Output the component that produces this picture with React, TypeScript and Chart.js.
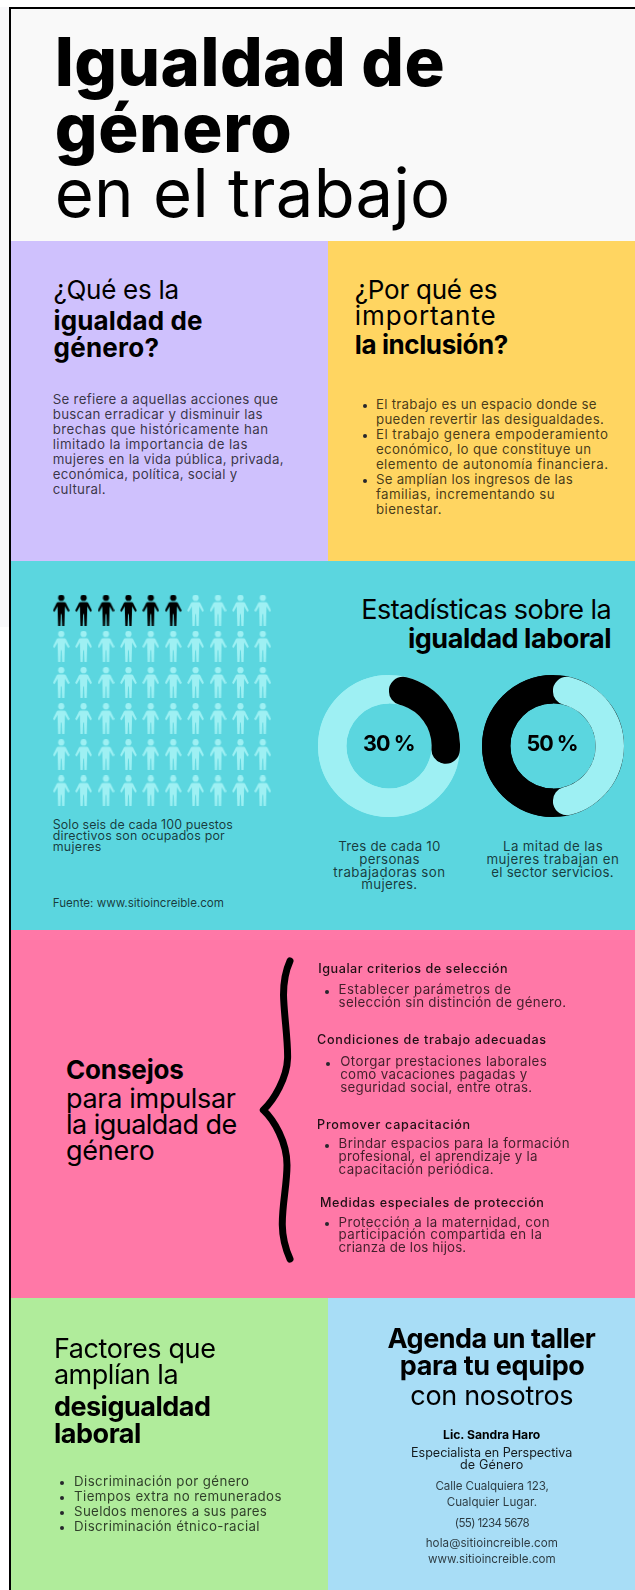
import React, { useEffect, useRef } from "react";
import { Chart, registerables } from "chart.js";

Chart.register(...registerables);

// ---------- data ----------
const ringLabels = ["Mujeres", "Resto"];
const womenWorkersShare = [30, 70];
const womenServicesShare = [50, 50];
const pictogramColumns = [1, 2, 3, 4, 5, 6, 7, 8, 9, 10];
const pictogramRows = [1, 2, 3, 4, 5, 6];
const directivesPerHundred = 6;

const BLACK = "#000000";
const LIGHT = "#9EF0F3";

const measureCtx = document.createElement("canvas").getContext("2d");

type LineProps = {
  x: number;
  y: number;
  w?: number;
  s: number;
  b?: boolean;
  m?: boolean;
  k?: boolean;
  c?: string;
  children: string;
};

function L({ x, y, w, s, b, m, k, c, children }: LineProps) {
  const weight = k ? 800 : b ? 700 : m ? 500 : 400;
  let spacing = 0;
  if (w && measureCtx) {
    measureCtx.font = `${weight} ${s}px Inter`;
    const natural = measureCtx.measureText(children).width;
    spacing = (w - natural) / Math.max(1, children.length - 1);
  }
  return (
    <div
      style={{
        position: "absolute",
        left: x,
        top: y + 1.5 - 0.8636 * s,
        fontFamily: "Inter",
        fontSize: s,
        lineHeight: `${s}px`,
        fontWeight: weight,
        color: c || "#000",
        letterSpacing: spacing,
        whiteSpace: "nowrap",
      }}
    >
      {children}
    </div>
  );
}

function Dot({ x, y }: { x: number; y: number }) {
  return (
    <div
      style={{
        position: "absolute",
        left: x - 2,
        top: y - 0.5,
        width: 4,
        height: 4,
        borderRadius: "50%",
        background: "#26262c",
      }}
    />
  );
}

function Box({ x, y, w, h, c }: { x: number; y: number; w: number; h: number; c: string }) {
  return <div style={{ position: "absolute", left: x, top: y, width: w, height: h, background: c }} />;
}

function personSprite(color: string) {
  const canvas = document.createElement("canvas");
  canvas.width = 17;
  canvas.height = 31;
  const ctx = canvas.getContext("2d")!;
  ctx.fillStyle = color;
  ctx.beginPath();
  ctx.arc(8.5, 3.2, 3.1, 0, Math.PI * 2);
  ctx.fill();
  ctx.beginPath();
  ctx.moveTo(5.6, 7.4);
  ctx.lineTo(11.4, 7.4);
  ctx.quadraticCurveTo(12.6, 7.5, 13.2, 8.6);
  ctx.lineTo(16.9, 16);
  ctx.lineTo(15.3, 17.2);
  ctx.lineTo(12.2, 11.8);
  ctx.lineTo(12, 19);
  ctx.lineTo(11.6, 31);
  ctx.lineTo(9.4, 31);
  ctx.lineTo(8.9, 19.5);
  ctx.lineTo(8.1, 19.5);
  ctx.lineTo(7.6, 31);
  ctx.lineTo(5.4, 31);
  ctx.lineTo(5, 19);
  ctx.lineTo(4.8, 11.8);
  ctx.lineTo(1.7, 17.2);
  ctx.lineTo(0.1, 16);
  ctx.lineTo(3.8, 8.6);
  ctx.quadraticCurveTo(4.4, 7.5, 5.6, 7.4);
  ctx.closePath();
  ctx.fill();
  return canvas;
}

function Ring({
  values,
  colors,
  radii,
  under,
  left,
  top,
}: {
  values: number[];
  colors: string[];
  radii: number[];
  under: string;
  left: number;
  top: number;
}) {
  const ref = useRef<HTMLCanvasElement>(null);
  useEffect(() => {
    const backdrop = {
      id: "ringBackdrop",
      beforeDatasetsDraw(chart: any) {
        const arc = chart.getDatasetMeta(0).data[0];
        const { ctx } = chart;
        ctx.save();
        ctx.strokeStyle = under;
        ctx.lineWidth = arc.outerRadius - arc.innerRadius;
        ctx.beginPath();
        ctx.arc(arc.x, arc.y, (arc.outerRadius + arc.innerRadius) / 2, 0, Math.PI * 2);
        ctx.stroke();
        ctx.restore();
      },
    };
    const chart = new Chart(ref.current!, {
      type: "doughnut",
      data: {
        labels: ringLabels,
        datasets: [
          { data: values, backgroundColor: colors, borderWidth: 0, borderRadius: radii, spacing: 0 },
        ],
      },
      options: {
        animation: false,
        responsive: false,
        cutout: "60%",
        rotation: 0,
        layout: { padding: 0 },
        plugins: { legend: { display: false }, tooltip: { enabled: false } },
      },
      plugins: [backdrop],
    } as any);
    return () => chart.destroy();
  }, []);
  return <canvas ref={ref} width={142} height={142} style={{ position: "absolute", left, top, width: 142, height: 142 }} />;
}

function Pictogram() {
  const ref = useRef<HTMLCanvasElement>(null);
  useEffect(() => {
    const all = pictogramRows.flatMap((r) => pictogramColumns.map((c) => ({ x: c, y: r })));
    const chart = new Chart(ref.current!, {
      type: "scatter",
      data: {
        datasets: [
          {
            label: "Mujeres",
            data: all.slice(0, directivesPerHundred),
            pointStyle: personSprite(BLACK),
            pointRadius: 10,
            backgroundColor: BLACK,
            clip: false,
          },
          {
            label: "Hombres",
            data: all.slice(directivesPerHundred),
            pointStyle: personSprite(LIGHT),
            pointRadius: 10,
            backgroundColor: LIGHT,
            clip: false,
          },
        ],
      },
      options: {
        animation: false,
        responsive: false,
        layout: { padding: 0, autoPadding: false },
        scales: {
          x: { type: "linear", display: false, min: 0.5, max: 10.5 },
          y: { type: "linear", display: false, min: 0.5, max: 6.5, reverse: true },
        },
        plugins: { legend: { display: false }, tooltip: { enabled: false } },
      },
    } as any);
    return () => chart.destroy();
  }, []);
  return <canvas ref={ref} width={224} height={217} style={{ position: "absolute", left: 50, top: 592, width: 224, height: 217 }} />;
}

const T = "rgba(0,0,0,0.74)";
const H = "rgba(0,0,0,0.88)";
const SIZE = 13.3;

export default function App() {
  useEffect(() => {
    document.body.style.margin = "0";
  }, []);
  return (
    <div
      style={{
        position: "absolute",
        left: 0,
        top: 0,
        width: 635,
        height: 1590,
        overflow: "hidden",
        background: "#fff",
        filter: "blur(0.35px)",
      }}
    >
      <Box x={0} y={7} w={9} h={620} c="#f8f8fa" />
      <Box x={9} y={7} w={626} h={234} c="#F9F9F9" />
      <Box x={11} y={241} w={317} h={320} c="#CFC1FD" />
      <Box x={328} y={241} w={307} h={320} c="#FFD561" />
      <Box x={11} y={561} w={624} h={369} c="#5BD6DF" />
      <Box x={11} y={930} w={624} h={368} c="#FF78A7" />
      <Box x={11} y={1298} w={317} h={292} c="#B0EC9B" />
      <Box x={328} y={1298} w={307} h={292} c="#A8DDF6" />
      <Box x={9} y={6.5} w={626} h={2} c="#000" />
      <Box x={9} y={6.5} w={2} h={1584} c="#000" />

      {/* Title */}
      <L x={54.7} y={84.5} w={390} s={67} k>Igualdad de</L>
      <L x={54.7} y={150} w={237} s={67} k>género</L>
      <L x={54.7} y={215.5} w={395.5} s={67}>en el trabajo</L>

      {/* Purple */}
      <L x={53.5} y={297.5} w={125.5} s={26}>¿Qué es la</L>
      <L x={53.5} y={329} w={149} s={26} b>igualdad de</L>
      <L x={53.5} y={356} w={105.5} s={26} b>género?</L>
      <L x={52.7} y={403} w={225.3} s={SIZE} c={T}>Se refiere a aquellas acciones que</L>
      <L x={52.7} y={418} w={209.8} s={SIZE} c={T}>buscan erradicar y disminuir las</L>
      <L x={52.7} y={433} w={215.3} s={SIZE} c={T}>brechas que históricamente han</L>
      <L x={52.7} y={448} w={194.8} s={SIZE} c={T}>limitado la importancia de las</L>
      <L x={52.7} y={463} w={230.8} s={SIZE} c={T}>mujeres en la vida pública, privada,</L>
      <L x={52.7} y={478} w={184.6} s={SIZE} c={T}>económica, política, social y</L>
      <L x={52.7} y={493} w={53} s={SIZE} c={T}>cultural.</L>

      {/* Yellow */}
      <L x={354.8} y={297.5} w={142.6} s={26}>¿Por qué es</L>
      <L x={354.8} y={324} w={140.9} s={26}>importante</L>
      <L x={354.8} y={352.5} w={153.5} s={26} b>la inclusión?</L>
      <Dot x={364.5} y={404} />
      <Dot x={364.5} y={434} />
      <Dot x={364.5} y={479} />
      <L x={375.9} y={408} w={220.7} s={SIZE} c={T}>El trabajo es un espacio donde se</L>
      <L x={375.9} y={423} w={228} s={SIZE} c={T}>pueden revertir las desigualdades.</L>
      <L x={375.9} y={438} w={232.1} s={SIZE} c={T}>El trabajo genera empoderamiento</L>
      <L x={375.9} y={453} w={215.1} s={SIZE} c={T}>económico, lo que constituye un</L>
      <L x={375.9} y={468} w={232.1} s={SIZE} c={T}>elemento de autonomía financiera.</L>
      <L x={375.9} y={483} w={196.8} s={SIZE} c={T}>Se amplían los ingresos de las</L>
      <L x={375.9} y={498} w={178.6} s={SIZE} c={T}>familias, incrementando su</L>
      <L x={375.9} y={513} w={65.6} s={SIZE} c={T}>bienestar.</L>

      {/* Teal */}
      <Pictogram />
      <L x={52.7} y={828.3} w={180.2} s={12.4} c={T}>Solo seis de cada 100 puestos</L>
      <L x={52.7} y={839.3} w={172.1} s={12.4} c={T}>directivos son ocupados por</L>
      <L x={52.7} y={850.3} w={48.6} s={12.4} c={T}>mujeres</L>
      <L x={52.7} y={906.7} w={171.3} s={11.6} c={T}>Fuente: www.sitioincreible.com</L>

      <L x={361.3} y={617.7} w={250.3} s={27}>Estadísticas sobre la</L>
      <L x={407.9} y={647.3} w={203.7} s={27} b>igualdad laboral</L>

      <Ring values={womenWorkersShare} colors={[BLACK, LIGHT]} radii={[15, 0]} under={LIGHT} left={318} top={675} />
      <Ring values={womenServicesShare} colors={[LIGHT, BLACK]} radii={[15, 0]} under={BLACK} left={482} top={675} />
      <L x={363} y={750.5} w={52.5} s={21.5} b>{`${womenWorkersShare[0]} %`}</L>
      <L x={526.5} y={750.5} w={52} s={21.5} b>{`${womenServicesShare[0]} %`}</L>

      <L x={338.2} y={850} w={102.1} s={13.3} c={T}>Tres de cada 10</L>
      <L x={359.3} y={862.7} w={60.3} s={13.3} c={T}>personas</L>
      <L x={333.3} y={875.7} w={111.7} s={13.3} c={T}>trabajadoras son</L>
      <L x={361.3} y={888.3} w={55.9} s={13.3} c={T}>mujeres.</L>
      <L x={503} y={850} w={99.7} s={13.3} c={T}>La mitad de las</L>
      <L x={486.4} y={862.7} w={132.5} s={13.3} c={T}>mujeres trabajan en</L>
      <L x={491.3} y={875.7} w={122.3} s={13.3} c={T}>el sector servicios.</L>

      {/* Pink */}
      <L x={66} y={1077.7} w={117.9} s={26} b>Consejos</L>
      <L x={66} y={1107.3} w={170} s={27}>para impulsar</L>
      <L x={66} y={1133.3} w={171.3} s={27}>la igualdad de</L>
      <L x={66} y={1159.3} w={88.7} s={27}>género</L>

      <svg width={635} height={1590} style={{ position: "absolute", left: 0, top: 0 }}>
        <path
          d="M290 961 C285 972 283.5 982 283.5 995 C284 1015 288 1040 287.6 1058 C287 1078 274 1100 263.3 1110 C274 1120 287 1142 287 1165 C287 1185 282 1205 282.3 1225 C282.5 1240 286 1250 290 1259"
          fill="none"
          stroke="#000"
          strokeWidth={7}
          strokeLinecap="round"
          strokeLinejoin="round"
        />
      </svg>

      <L x={318.3} y={972.3} w={189.2} s={12.6} m c={H}>Igualar criterios de selección</L>
      <Dot x={326.5} y={990} />
      <L x={338.6} y={992.7} w={172.4} s={13.3} c={T}>Establecer parámetros de</L>
      <L x={338.6} y={1005.7} w={227.6} s={13.3} c={T}>selección sin distinción de género.</L>

      <L x={317.1} y={1043.7} w={228.9} s={12.6} m c={H}>Condiciones de trabajo adecuadas</L>
      <Dot x={328} y={1062} />
      <L x={340.2} y={1065.3} w={206.6} s={13.3} c={T}>Otorgar prestaciones laborales</L>
      <L x={340.2} y={1078} w={187.1} s={13.3} c={T}>como vacaciones pagadas y</L>
      <L x={340.2} y={1090.7} w={192} s={13.3} c={T}>seguridad social, entre otras.</L>

      <L x={317.1} y={1128} w={153.1} s={12.6} m c={H}>Promover capacitación</L>
      <Dot x={326.5} y={1144} />
      <L x={338.6} y={1147.3} w={230.9} s={13.3} c={T}>Brindar espacios para la formación</L>
      <L x={338.6} y={1160} w={198.9} s={13.3} c={T}>profesional, el aprendizaje y la</L>
      <L x={338.6} y={1172.7} w={155.1} s={13.3} c={T}>capacitación periódica.</L>

      <L x={320} y={1206.7} w={223.9} s={12.6} m c={H}>Medidas especiales de protección</L>
      <Dot x={326.5} y={1222} />
      <L x={338.6} y={1225.7} w={211} s={13.3} c={T}>Protección a la maternidad, con</L>
      <L x={338.6} y={1238.3} w={203.3} s={13.3} c={T}>participación compartida en la</L>
      <L x={338.6} y={1251} w={127.6} s={13.3} c={T}>crianza de los hijos.</L>

      {/* Green */}
      <L x={53.9} y={1357.3} w={162} s={27}>Factores que</L>
      <L x={53.9} y={1383.3} w={124.7} s={27}>amplían la</L>
      <L x={53.9} y={1415} w={157.1} s={27} b>desigualdad</L>
      <L x={53.9} y={1441.7} w={87.5} s={27} b>laboral</L>
      <Dot x={62.4} y={1481} />
      <Dot x={62.4} y={1496} />
      <Dot x={62.4} y={1511} />
      <Dot x={62.4} y={1526} />
      <L x={74.1} y={1485} w={174.9} s={SIZE} c={T}>Discriminación por género</L>
      <L x={74.1} y={1500} w={207.4} s={SIZE} c={T}>Tiempos extra no remunerados</L>
      <L x={74.1} y={1515} w={192.8} s={SIZE} c={T}>Sueldos menores a sus pares</L>
      <L x={74.1} y={1530} w={185.5} s={SIZE} c={T}>Discriminación étnico-racial</L>

      {/* Blue */}
      <L x={387.6} y={1346.7} w={208.2} s={27} b>Agenda un taller</L>
      <L x={399.8} y={1374} w={185.1} s={27} b>para tu equipo</L>
      <L x={410.3} y={1404.3} w={163.2} s={27}>con nosotros</L>
      <L x={443} y={1437.7} w={97.7} s={12.2} b>Lic. Sandra Haro</L>
      <L x={411.1} y={1456.3} w={161.2} s={12.6} c={H}>Especialista en Perspectiva</L>
      <L x={460} y={1468.3} w={63.3} s={12.6} c={H}>de Género</L>
      <L x={435.4} y={1490} w={113.4} s={11.6} c={T}>Calle Cualquiera 123,</L>
      <L x={446.7} y={1506} w={90.3} s={11.6} c={T}>Cualquier Lugar.</L>
      <L x={454.8} y={1526.3} w={75} s={11.6} c={T}>(55) 1234 5678</L>
      <L x={425.7} y={1547} w={132.3} s={11.6} c={T}>hola@sitioincreible.com</L>
      <L x={428} y={1562.7} w={127.7} s={11.6} c={T}>www.sitioincreible.com</L>
    </div>
  );
}
